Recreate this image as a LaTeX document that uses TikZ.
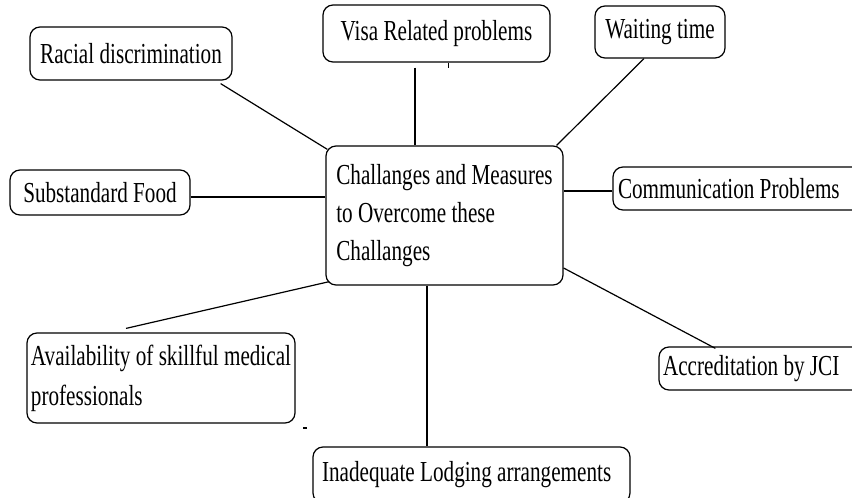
\documentclass[tikz,border=0pt]{standalone}
\usepackage{fontspec}
\setmainfont{Liberation Serif}[FakeStretch=0.73]
\begin{document}
\begin{tikzpicture}[x=1pt,y=-1pt,
  box/.style={draw, line width=1.2pt, rounded corners=10pt, inner sep=0pt,
    font=\fontsize{29}{38}\selectfont, align=center},
  leftbox/.style={box, align=left},
  wordfix/.style={execute at begin node={\spaceskip=0pt\xspaceskip=0pt}},
  link/.style={line width=1.2pt}]
\useasboundingbox (0,0) rectangle (852,498);
% central node
\node[leftbox, minimum width=237pt, minimum height=139pt] (c) at (444.5,215.5)
  {Challanges and Measures\\to Overcome these\\Challanges};
% surrounding nodes
\node[box, minimum width=202pt, minimum height=53pt] (racial) at (131,53.5) {Racial discrimination};
\node[box, minimum width=227pt, minimum height=57pt] (visa) at (436.5,33.5) {Visa Related problems};
\node[box, minimum width=130pt, minimum height=52pt] (wait) at (660,32) {Waiting time};
\node[box, minimum width=180pt, minimum height=45pt] (subst) at (100,192.5) {Substandard Food};
\node[leftbox, wordfix, text width=240pt, inner xsep=5pt, minimum height=43pt] (comm) at (738,188.5) {Communication Problems};
\node[leftbox, minimum width=268pt, minimum height=90pt, font=\fontsize{29}{40}\selectfont] (avail) at (161,378)
  {Availability of skillful medical\\professionals};
\node[leftbox, wordfix, text width=200pt, inner xsep=4pt, minimum height=43pt] (accred) at (763,368.5) {Accreditation by JCI};
\node[leftbox, wordfix, text width=299pt, inner xsep=9pt, minimum height=56pt] (lodge) at (471.5,475) {Inadequate Lodging arrangements};
% connectors
\draw[link] ([xshift=-12pt,yshift=-3pt]racial.south east) -- ([xshift=2pt,yshift=-4pt]c.north west);
\draw[link] ([xshift=-21.5pt,yshift=-5pt]visa.south) -- ([xshift=-29.5pt]c.north);
\draw[link] ([xshift=-16pt]wait.south) -- ([xshift=-7pt]c.north east);
\draw[link] ([yshift=-4.5pt]subst.east) -- ([yshift=-4.5pt]subst.east -| c.west);
\draw[link] ([yshift=-2.5pt]comm.west) -- ([yshift=-2.5pt]comm.west -| c.east);
\draw[link] ([xshift=-35pt,yshift=4pt]avail.north) -- ([xshift=4pt,yshift=4pt]c.south west);
\draw[link] ([xshift=-17.5pt]c.south) -- ([xshift=-17.5pt]c.south |- lodge.north);
\draw[link] ([yshift=-52.5pt]c.east) -- ([xshift=57pt,yshift=-2pt]accred.north west);
% small stray marks
\draw[line width=1pt] ([xshift=11.5pt]visa.south) -- ++(0,5);
\draw[line width=1.2pt] (303,428) -- (307,428);
\end{tikzpicture}
\end{document}
